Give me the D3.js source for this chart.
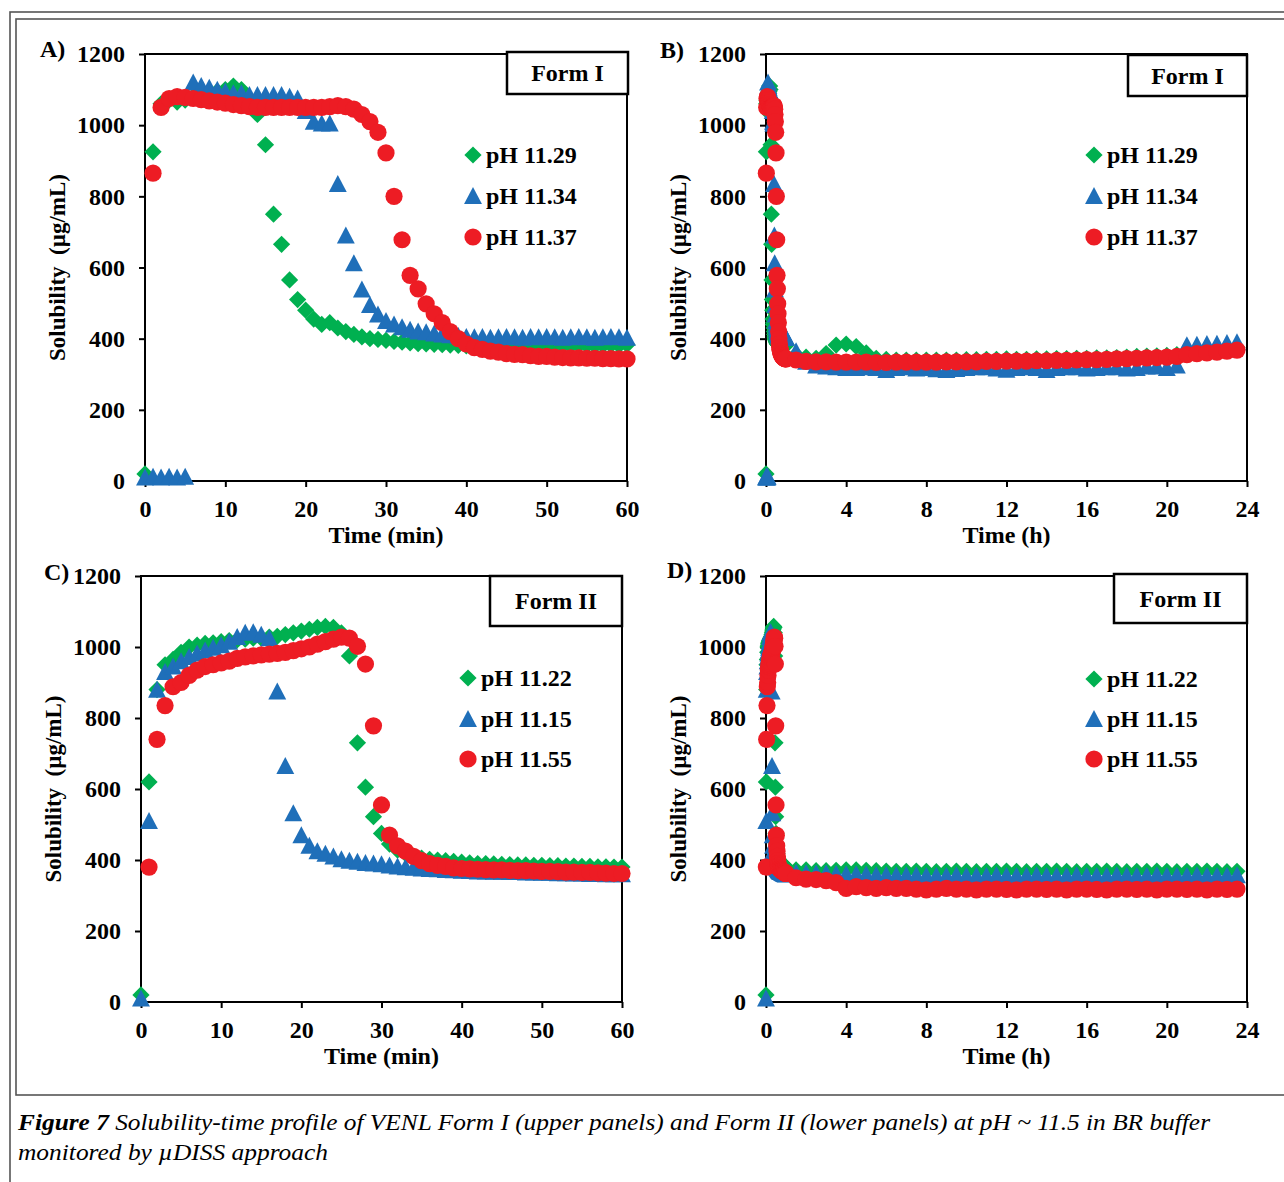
<!DOCTYPE html>
<html>
<head>
<meta charset="utf-8">
<script src="https://cdn.jsdelivr.net/npm/d3@7"></script>
<style>
  body { margin: 0; background: #fff; }
  svg text { font-family: "Liberation Serif", "Times New Roman", serif; fill: #000; }
  .tick text, .lbl { font-weight: bold; font-size: 24px; }
  .tick line { stroke: #000; stroke-width: 2; }
</style>
</head>
<body>
<svg id="fig" width="1284" height="1182"></svg>
<script>
// sampling times
var timeMin = [0,1,2,3,4,5,6,7,8,9,10,11,12,13,14,15,16,17,18,19,20,21,22,23,24,25,26,27,28,29,30,
  31,32,33,34,35,36,37,38,39,40,41,42,43,44,45,46,47,48,49,50,51,52,53,54,55,56,57,58,59,60];
var timeLateH = [1.5,2,2.5,3,3.5,4,4.5,5,5.5,6,6.5,7,7.5,8,8.5,9,9.5,10,10.5,11,11.5,12,12.5,13,
  13.5,14,14.5,15,15.5,16,16.5,17,17.5,18,18.5,19,19.5,20,20.5,21,21.5,22,22.5,23,23.5];

var yTicks = [0, 200, 400, 600, 800, 1000, 1200];
var minTicks = [0, 10, 20, 30, 40, 50, 60];
var hourTicks = [0, 4, 8, 12, 16, 20, 24];

// Form I, first hour (ug/mL)
var formI_ph1129 = [20, 925, 1060, 1070, 1065, 1070, 1080, 1085, 1090, 1095, 1100,
  1110, 1100, 1060, 1030, 945, 750, 665, 565, 510, 480,
  455, 440, 445, 430, 420, 412, 405, 400, 398, 395,
  392, 390, 388, 386, 385, 384, 383, 382, 381, 380,
  380, 381, 380, 382, 381, 380, 382, 381, 380, 381,
  382, 381, 380, 382, 381, 380, 381, 382, 381, 383];
var formI_ph1134 = [10, 12, 10, 12, 10, 12, 1120, 1110, 1105, 1100, 1095,
  1090, 1090, 1085, 1085, 1085, 1085, 1085, 1080, 1075, 1040,
  1010, 1005, 1005, 835, 690, 612, 538, 495, 468, 450,
  440, 432, 425, 420, 418, 415, 412, 410, 408, 405,
  404, 405, 403, 404, 405, 404, 403, 405, 404, 405,
  404, 403, 404, 405, 404, 403, 404, 405, 404, 403];
var formI_ph1137 = [null, 865, 1050, 1075, 1080, 1078, 1075, 1072, 1068, 1065, 1062,
  1058, 1055, 1052, 1050, 1050, 1050, 1050, 1050, 1050, 1050,
  1050, 1050, 1052, 1055, 1052, 1045, 1030, 1010, 980, 922,
  800, 678, 578, 540, 498, 470, 445, 420, 400, 385,
  375, 370, 365, 362, 358, 356, 355, 352, 350, 350,
  348, 347, 346, 346, 345, 345, 344, 344, 343, 343];

// Form I, 1.5 h to 23.5 h
var formI_ph1129_h = [355, 348, 345, 358, 382, 385, 378, 360, 345, 342,
  340, 340, 340, 340, 340, 340, 340, 341, 341, 342,
  342, 343, 342, 342, 343, 343, 344, 344, 345, 345,
  346, 346, 347, 348, 350, 351, 352, 353, 355, 362,
  365, 368, 370, 372, 375];
var formI_ph1134_h = [365, 335, 325, 322, 320, 318, 318, 320, 318, 312,
  318, 320, 316, 318, 314, 312, 315, 318, 320, 320,
  316, 313, 318, 320, 318, 312, 318, 320, 320, 316,
  318, 320, 320, 316, 318, 322, 322, 318, 325, 382,
  383, 385, 386, 388, 390];
var formI_ph1137_h = [340, 336, 335, 335, 334, 334, 334, 334, 333, 333,
  334, 334, 334, 334, 334, 335, 335, 335, 335, 336,
  336, 337, 337, 337, 338, 338, 339, 339, 340, 341,
  341, 342, 343, 344, 345, 346, 347, 348, 350, 355,
  358, 360, 362, 365, 368];

// Form II, first hour
var formII_ph1122 = [20, 620, 880, 950, 965, 985, 1000, 1005, 1010, 1012, 1015,
  1018, 1020, 1022, 1025, 1025, 1028, 1030, 1035, 1040, 1045,
  1050, 1055, 1058, 1055, 1040, 975, 730, 605, 522, 475,
  445, 428, 418, 410, 405, 402, 400, 398, 396, 394,
  392, 390, 390, 389, 388, 387, 386, 386, 385, 385,
  384, 384, 383, 383, 382, 382, 381, 381, 380, 380];
var formII_ph1115 = [10, 510, 880, 930, 945, 960, 972, 982, 990, 998, 1005,
  1015, 1028, 1040, 1042, 1035, 1025, 875, 665, 532, 470,
  440, 425, 418, 410, 402, 398, 395, 392, 390, 388,
  385, 382, 380, 378, 376, 375, 374, 372, 371, 370,
  369, 368, 368, 367, 367, 366, 366, 365, 365, 364,
  364, 363, 363, 362, 362, 361, 361, 360, 360, 360];
var formII_ph1155 = [null, 380, 740, 835, 888, 900, 920, 935, 945, 950, 955,
  960, 968, 972, 975, 978, 980, 982, 985, 990, 995,
  1000, 1008, 1015, 1022, 1028, 1025, 1002, 952, 778, 555,
  470, 440, 425, 410, 398, 390, 385, 382, 378, 376,
  375, 374, 373, 372, 372, 371, 370, 370, 369, 368,
  368, 367, 366, 366, 365, 365, 364, 363, 362, 362];

// Form II, 1.5 h to 23.5 h
var formII_ph1122_h = [372, 372, 370, 370, 371, 372, 372, 371, 370, 369,
  368, 368, 369, 368, 367, 368, 369, 368, 367, 368,
  368, 369, 368, 367, 368, 368, 369, 368, 367, 368,
  368, 369, 368, 367, 368, 368, 369, 368, 367, 368,
  368, 369, 368, 367, 368];
var formII_ph1115_h = [364, 363, 362, 362, 361, 360, 360, 359, 358, 358,
  357, 357, 357, 356, 356, 356, 357, 356, 356, 356,
  357, 356, 356, 356, 357, 356, 356, 356, 357, 356,
  356, 356, 357, 356, 356, 356, 357, 356, 356, 356,
  357, 356, 356, 356, 357];
var formII_ph1155_h = [350, 346, 345, 342, 336, 320, 325, 322, 320, 322,
  320, 320, 318, 316, 318, 320, 318, 318, 316, 318,
  318, 317, 316, 318, 318, 317, 318, 316, 318, 318,
  317, 316, 318, 318, 317, 318, 316, 318, 318, 317,
  318, 316, 318, 317, 318];

var green = "#00B050", blue = "#1F6FB9", red = "#ED1C24";

// marker shapes, size = half width squared
var diamond = {
  draw: function(ctx, size) {
    var r = Math.sqrt(size);
    ctx.moveTo(0, -r); ctx.lineTo(r, 0); ctx.lineTo(0, r); ctx.lineTo(-r, 0); ctx.closePath();
  }
};
var triangle = {
  draw: function(ctx, size) {
    var r = Math.sqrt(size);
    ctx.moveTo(0, -r); ctx.lineTo(r, r * 0.9); ctx.lineTo(-r, r * 0.9); ctx.closePath();
  }
};
var circle = {
  draw: function(ctx, size) {
    var r = Math.sqrt(size);
    ctx.moveTo(r, 0); ctx.arc(0, 0, r, 0, 2 * Math.PI);
  }
};

function pairs(times, vals, div) {
  return times.map(function(t, i) { return {t: t / div, v: vals[i]}; });
}

var svg = d3.select("#fig");
svg.append("rect").attr("width", 1284).attr("height", 1182).attr("fill", "#fff");

// page frames
svg.append("rect")
    .attr("x", 10).attr("y", 12).attr("width", 1300).attr("height", 1200)
    .attr("fill", "none").attr("stroke", "#555").attr("stroke-width", 1.6);
svg.append("rect")
    .attr("x", 16).attr("y", 19).attr("width", 1300).attr("height", 1076)
    .attr("fill", "none").attr("stroke", "#555").attr("stroke-width", 1.6);

function drawPanel(p) {
  var g = svg.append("g").classed("panel panel-" + p.id, true);
  var x = d3.scaleLinear().domain([0, p.xMax]).range([p.left, p.right]);
  var y = d3.scaleLinear().domain([0, 1200]).range([p.bottom, p.top]);

  g.append("rect")
      .attr("x", p.left).attr("y", p.top)
      .attr("width", p.right - p.left).attr("height", p.bottom - p.top)
      .attr("fill", "none").attr("stroke", "#000").attr("stroke-width", 2);

  var yAxis = g.append("g")
      .attr("transform", "translate(" + p.left + ",0)")
      .call(d3.axisLeft(y).tickValues(yTicks).tickFormat(d3.format("d"))
        .tickSize(6).tickSizeOuter(0).tickPadding(14));
  yAxis.select(".domain").remove();

  var xAxis = g.append("g")
      .attr("transform", "translate(0," + p.bottom + ")")
      .call(d3.axisBottom(x).tickValues(p.xTicks).tickFormat(d3.format("d"))
        .tickSize(6).tickSizeOuter(0).tickPadding(13));
  xAxis.select(".domain").remove();
  g.selectAll(".tick text").attr("fill", "#000");

  g.append("text")
      .classed("lbl", true)
      .attr("x", (p.left + p.right) / 2)
      .attr("y", p.bottom + 62)
      .attr("text-anchor", "middle")
      .text(p.xTitle);

  g.append("text")
      .classed("lbl", true)
      .attr("transform", "translate(" + (p.left - 80) + "," + ((p.top + p.bottom) / 2) + ") rotate(-90)")
      .attr("text-anchor", "middle")
      .style("font-size", "23px")
      .attr("xml:space", "preserve")
      .text("Solubility  (\u00B5g/mL)");

  g.append("text")
      .classed("lbl", true)
      .attr("x", p.labelX).attr("y", p.labelY)
      .text(p.label);

  p.series.forEach(function(s) {
    g.append("g")
        .selectAll("path")
        .data(s.points.filter(function(d) { return d.v != null; }))
        .join("path")
        .attr("transform", function(d) { return "translate(" + x(d.t) + "," + y(d.v) + ")"; })
        .attr("d", d3.symbol().type(s.shape).size(s.size))
        .attr("fill", s.color);
  });

  // form box
  g.append("rect")
      .attr("x", p.box[0]).attr("y", p.box[1])
      .attr("width", p.box[2]).attr("height", p.box[3])
      .attr("fill", "#fff").attr("stroke", "#000").attr("stroke-width", 2.5);
  g.append("text")
      .classed("lbl", true)
      .attr("x", p.box[0] + p.box[2] / 2)
      .attr("y", p.box[1] + p.box[3] / 2)
      .attr("dy", "0.34em")
      .attr("text-anchor", "middle")
      .text(p.form);

  // legend
  p.series.forEach(function(s, i) {
    g.append("path")
        .attr("transform", "translate(" + p.legendX + "," + p.legendY[i] + ")")
        .attr("d", d3.symbol().type(s.shape).size(s.size))
        .attr("fill", s.color);
    g.append("text")
        .classed("lbl", true)
        .attr("x", p.legendX + 13)
        .attr("y", p.legendY[i])
        .attr("dy", "0.34em")
        .text(s.name);
  });
}

var panels = [
  {id: "A", label: "A)", labelX: 40, labelY: 57, left: 145, right: 627, top: 54, bottom: 481,
   xMax: 60, xTicks: minTicks, xTitle: "Time (min)", form: "Form I", box: [507, 52, 121, 42],
   legendX: 473, legendY: [155, 196, 237],
   series: [
     {name: "pH 11.29", shape: diamond, size: 74, color: green, points: pairs(timeMin, formI_ph1129, 1)},
     {name: "pH 11.34", shape: triangle, size: 80, color: blue, points: pairs(timeMin, formI_ph1134, 1)},
     {name: "pH 11.37", shape: circle, size: 74, color: red, points: pairs(timeMin, formI_ph1137, 1)}
   ]},
  {id: "B", label: "B)", labelX: 660, labelY: 58, left: 766, right: 1247, top: 54, bottom: 481,
   xMax: 24, xTicks: hourTicks, xTitle: "Time (h)", form: "Form I", box: [1128, 55, 119, 41],
   legendX: 1094, legendY: [155, 196, 237],
   series: [
     {name: "pH 11.29", shape: diamond, size: 74, color: green,
      points: pairs(timeMin, formI_ph1129, 60).concat(pairs(timeLateH, formI_ph1129_h, 1))},
     {name: "pH 11.34", shape: triangle, size: 80, color: blue,
      points: pairs(timeMin, formI_ph1134, 60).concat(pairs(timeLateH, formI_ph1134_h, 1))},
     {name: "pH 11.37", shape: circle, size: 74, color: red,
      points: pairs(timeMin, formI_ph1137, 60).concat(pairs(timeLateH, formI_ph1137_h, 1))}
   ]},
  {id: "C", label: "C)", labelX: 44, labelY: 580, left: 141, right: 622, top: 576, bottom: 1002,
   xMax: 60, xTicks: minTicks, xTitle: "Time (min)", form: "Form II", box: [490, 576, 132, 50],
   legendX: 468, legendY: [678, 719, 759],
   series: [
     {name: "pH 11.22", shape: diamond, size: 74, color: green, points: pairs(timeMin, formII_ph1122, 1)},
     {name: "pH 11.15", shape: triangle, size: 80, color: blue, points: pairs(timeMin, formII_ph1115, 1)},
     {name: "pH 11.55", shape: circle, size: 74, color: red, points: pairs(timeMin, formII_ph1155, 1)}
   ]},
  {id: "D", label: "D)", labelX: 667, labelY: 578, left: 766, right: 1247, top: 576, bottom: 1002,
   xMax: 24, xTicks: hourTicks, xTitle: "Time (h)", form: "Form II", box: [1114, 574, 133, 49],
   legendX: 1094, legendY: [679, 719, 759],
   series: [
     {name: "pH 11.22", shape: diamond, size: 74, color: green,
      points: pairs(timeMin, formII_ph1122, 60).concat(pairs(timeLateH, formII_ph1122_h, 1))},
     {name: "pH 11.15", shape: triangle, size: 80, color: blue,
      points: pairs(timeMin, formII_ph1115, 60).concat(pairs(timeLateH, formII_ph1115_h, 1))},
     {name: "pH 11.55", shape: circle, size: 74, color: red,
      points: pairs(timeMin, formII_ph1155, 60).concat(pairs(timeLateH, formII_ph1155_h, 1))}
   ]}
];

panels.forEach(drawPanel);

// caption
var cap1 = svg.append("text")
    .attr("x", 18).attr("y", 1130)
    .style("font-size", "24px").style("font-style", "italic");
cap1.append("tspan").style("font-weight", "bold").text("Figure 7");
cap1.append("tspan").text(" Solubility-time profile of VENL Form I (upper panels) and Form II (lower panels) at pH ~ 11.5 in BR buffer");
cap1.attr("textLength", 1192).attr("lengthAdjust", "spacingAndGlyphs");

svg.append("text")
    .attr("x", 18).attr("y", 1160)
    .style("font-size", "24px").style("font-style", "italic")
    .attr("textLength", 310).attr("lengthAdjust", "spacingAndGlyphs")
    .text("monitored by \u00B5DISS approach");
</script>
</body>
</html>
